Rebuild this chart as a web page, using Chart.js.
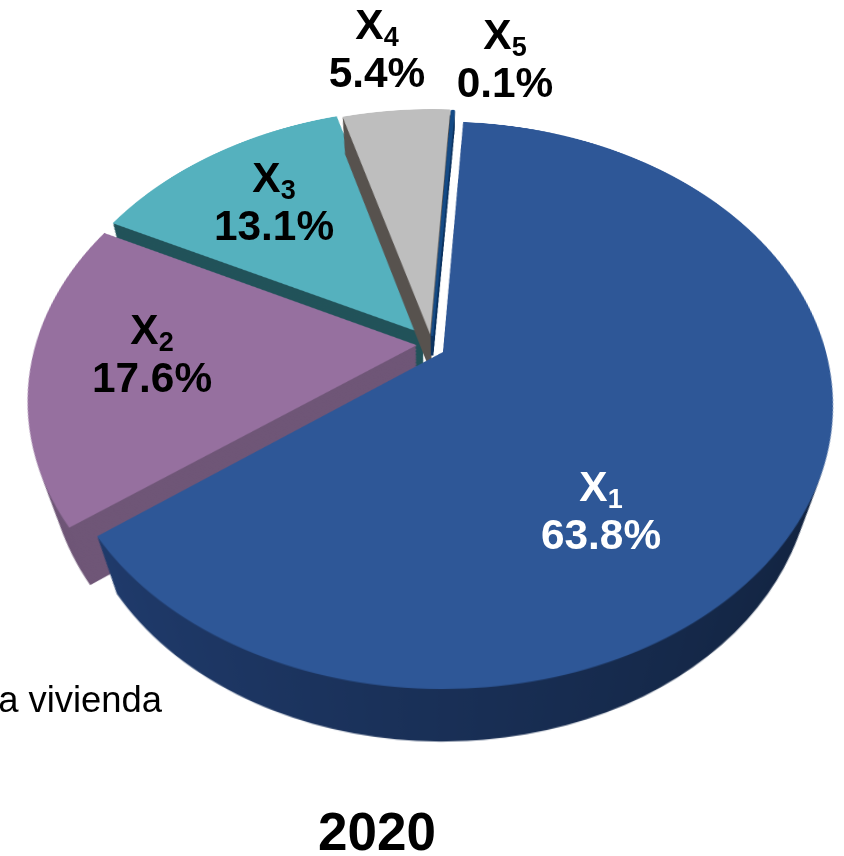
<!DOCTYPE html>
<html>
<head>
<meta charset="utf-8">
<script src="https://cdn.jsdelivr.net/npm/chart.js@4"></script>
<style>
html,body{margin:0;padding:0;background:#fff;}
#stage{position:relative;width:844px;height:856px;overflow:hidden;background:#fff;font-family:"Liberation Sans",Arial,sans-serif;color:#000;}
#holder{position:absolute;width:1000px;height:1000px;}
.lab{position:absolute;width:240px;margin-left:-120px;text-align:center;font-weight:bold;font-size:42.4px;line-height:48px;white-space:nowrap;}
.lab sub{font-size:27px;line-height:0;vertical-align:-0.27em;}
.note{position:absolute;font-size:36.4px;line-height:40px;white-space:nowrap;}
.title{position:absolute;left:257px;width:240px;text-align:center;font-weight:bold;font-size:53px;line-height:60px;}
</style>
</head>
<body>
<div id="stage">
  <div id="holder"><canvas id="c" width="1000" height="1000"></canvas></div>
</div>
<script>
const categories = ['X1', 'X2', 'X3', 'X4', 'X5'];
const subscripts = ['1', '2', '3', '4', '5'];
const shares = [63.8, 17.6, 13.1, 5.4, 0.1];
const yearTitle = '2020';
const cutOffNote = 'a vivienda';

const topColors  = ['#2E5797', '#96709F', '#55B1BE', '#BEBEBE', '#144A85'];
const wallColors = ['#1C335F', '#6F5677', '#22535A', '#58534F', '#0E3460'];
const shiftX     = [0, -26.5, -20, -13, -11];
const shiftY     = [0, -9.6, -26, -25, -23];
const wallScale  = [0.91, 0.91, 0.94, 0.945, 0.97];
const paintOrder = [2, 3, 4, 1, 0];
const labelCentres = [[601, 463], [152, 306], [274, 154], [377, 1], [505, 11]];

const RADIUS = 383, TILT = 44.4, EYE = 1425, NADIR = 906, NADIR_SHIFT = -7;
const APEX_X = 443, APEX_Y = 352, STEPS = 40;

function sideFill(ctx, chart, i) {
  if (i !== 0) return wallColors[i];
  const cx = chart.width / 2;
  const g = ctx.createLinearGradient(cx - RADIUS, 0, cx + RADIUS, 0);
  g.addColorStop(0, '#213D70');
  g.addColorStop(0.45, '#1A3159');
  g.addColorStop(1, '#12233F');
  return g;
}

const pie3d = {
  id: 'pie3d',
  afterDatasetsUpdate(chart) {
    chart.getDatasetMeta(0).data.forEach((el, i) => {
      el.x += shiftX[i];
      el.y += shiftY[i];
    });
  },
  beforeDatasetsDraw(chart) {
    const ctx = chart.ctx;
    const arcs = chart.getDatasetMeta(0).data;
    const nx = chart.width / 2 + NADIR_SHIFT, ny = chart.height / 2 + NADIR;
    paintOrder.forEach(i => {
      const el = arcs[i];
      const base = el.options;
      const fill = sideFill(ctx, chart, i);
      el.options = Object.assign({}, base, {backgroundColor: fill, borderColor: fill});
      for (let s = STEPS; s >= 1; s--) {
        const f = 1 - (1 - wallScale[i]) * s / STEPS;
        ctx.save();
        ctx.translate(nx, ny);
        ctx.scale(f, f);
        ctx.translate(-nx, -ny);
        el.draw(ctx);
        ctx.restore();
      }
      el.options = base;
      el.draw(ctx);
    });
    return false;
  }
};

const canvas = document.getElementById('c');
const chart = new Chart(canvas, {
  type: 'pie',
  data: {
    labels: categories,
    datasets: [{
      data: shares,
      backgroundColor: topColors,
      borderColor: topColors,
      borderWidth: [0, 0, 0, 0, 2.5]
    }]
  },
  options: {
    responsive: false,
    animation: false,
    devicePixelRatio: 2,
    rotation: 3.6,
    radius: RADIUS,
    layout: {padding: 0},
    plugins: {legend: {display: false}, tooltip: {enabled: false}}
  },
  plugins: [pie3d]
});

// Tilt the pie's plane in perspective about the apex of the largest slice.
const blue = chart.getDatasetMeta(0).data[0];
const holder = document.getElementById('holder');
holder.style.left = (APEX_X - blue.x) + 'px';
holder.style.top = (APEX_Y - blue.y) + 'px';
canvas.style.transformOrigin = blue.x + 'px ' + blue.y + 'px';
canvas.style.transform = 'perspective(' + EYE + 'px) rotateX(' + TILT + 'deg)';

const stage = document.getElementById('stage');
categories.forEach((name, i) => {
  const d = document.createElement('div');
  d.className = 'lab';
  d.style.left = labelCentres[i][0] + 'px';
  d.style.top = labelCentres[i][1] + 'px';
  if (i === 0) d.style.color = '#fff';
  d.innerHTML = name.charAt(0) + '<sub>' + subscripts[i] + '</sub><br>' + shares[i].toFixed(1) + '%';
  stage.appendChild(d);
});
const note = document.createElement('div');
note.className = 'note';
note.textContent = cutOffNote;
note.style.right = (844 - 162) + 'px';
note.style.top = '680px';
stage.appendChild(note);
const title = document.createElement('div');
title.className = 'title';
title.textContent = yearTitle;
title.style.top = '802px';
stage.appendChild(title);
</script>
</body>
</html>
